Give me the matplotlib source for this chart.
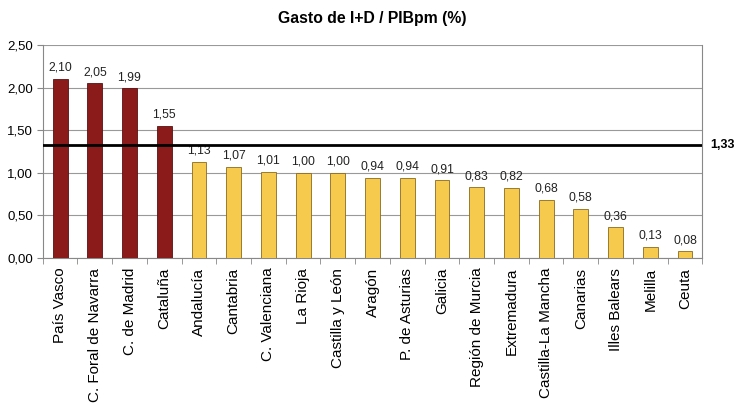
import matplotlib.pyplot as plt
import numpy as np

plt.rcParams['font.family'] = ['Liberation Sans', 'DejaVu Sans']

# Regional R&D expenditure as share of GDP
regions = ['País Vasco', 'C. Foral de Navarra', 'C. de Madrid', 'Cataluña',
           'Andalucía', 'Cantabria', 'C. Valenciana', 'La Rioja',
           'Castilla y León', 'Aragón', 'P. de Asturias', 'Galicia',
           'Región de Murcia', 'Extremadura', 'Castilla-La Mancha',
           'Canarias', 'Illes Balears', 'Melilla', 'Ceuta']
values = [2.10, 2.05, 1.99, 1.55, 1.13, 1.07, 1.01, 1.00, 1.00, 0.94,
          0.94, 0.91, 0.83, 0.82, 0.68, 0.58, 0.36, 0.13, 0.08]
spain_avg = 1.33
n_above = 4

fig = plt.figure(figsize=(7.37, 4.05), dpi=100)
ax = fig.add_axes([0.058, 0.363, 0.895, 0.526])

x = np.arange(len(regions))
colors = ['#8B1A1A'] * n_above + ['#F6CB4D'] * (len(regions) - n_above)
edges = ['#5A1010'] * n_above + ['#8A6A20'] * (len(regions) - n_above)
ax.bar(x, values, width=0.43, color=colors, edgecolor=edges, linewidth=0.6, zorder=3)

for xi, v in zip(x, values):
    ax.text(xi, v + 0.06, f'{v:.2f}'.replace('.', ','), ha='center', va='bottom',
            fontsize=8.7, color='#222222', zorder=4)

# National average line
ax.axhline(spain_avg, color='black', linewidth=2, zorder=4)
ax.text(1.012, spain_avg, f'{spain_avg:.2f}'.replace('.', ','),
        transform=ax.get_yaxis_transform(),
        ha='left', va='center', fontsize=9, fontweight='bold')

ax.set_xlim(-0.5, len(regions) - 0.5)
ax.set_ylim(0, 2.5)
yt = np.arange(0, 2.51, 0.5)
ax.set_yticks(yt)
ax.set_yticklabels([f'{t:.2f}'.replace('.', ',') for t in yt], fontsize=9.5)
ax.set_xticks(x)
ax.set_xticklabels(regions, rotation=90, fontsize=11)
ax.tick_params(axis='x', length=0, pad=7)
ax.set_xticks(np.arange(-0.5, len(regions)), minor=True)
ax.tick_params(axis='x', which='minor', length=4, color='#888888')
ax.tick_params(axis='y', length=4, color='#888888', pad=3)

ax.grid(axis='y', color='#999999', linewidth=0.8, zorder=0)
for side in ['left', 'bottom', 'right']:
    ax.spines[side].set_color('#888888')
ax.spines['top'].set_visible(False)

fig.text(0.505, 0.955, 'Gasto de I+D / PIBpm (%)', ha='center', va='center',
         fontsize=11.3, fontweight='bold')

plt.savefig('out.png', dpi=100)
